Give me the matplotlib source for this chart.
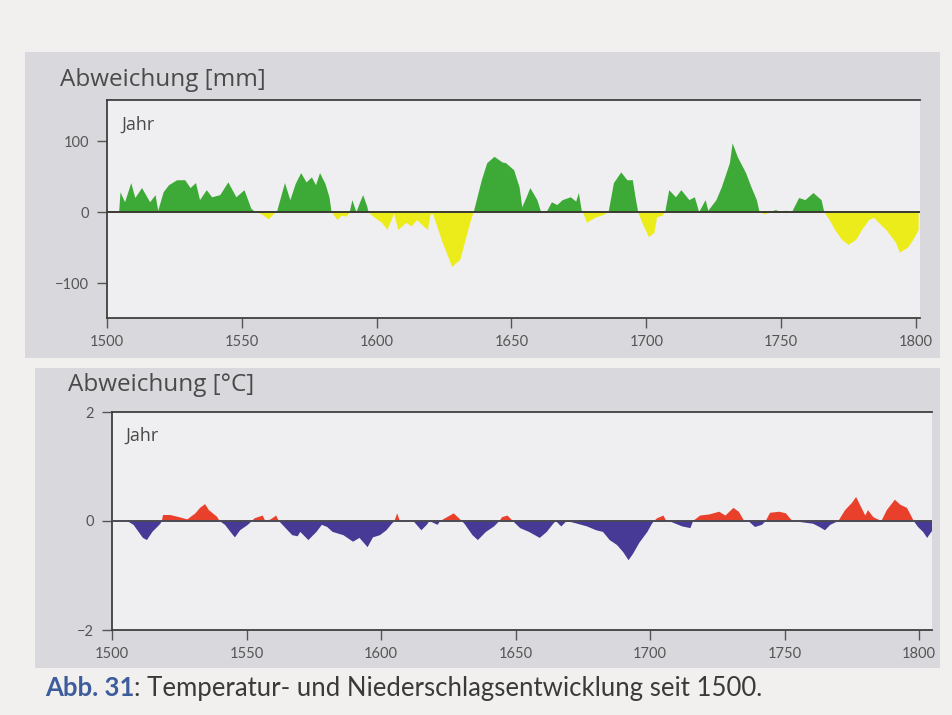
import matplotlib
matplotlib.use("Agg")
import matplotlib.pyplot as plt
from matplotlib.patches import Rectangle

# ---------------- data ----------------
precip_years = [1504.5, 1505, 1506.7, 1509, 1510.5, 1513, 1516, 1518, 1519, 1521, 1523, 1526, 1529,
                1531, 1533, 1534.5, 1537, 1539, 1542, 1545, 1548, 1551, 1553.5, 1555, 1557, 1560,
                1562, 1563, 1566, 1568, 1570, 1572, 1574, 1576, 1577.5, 1579, 1581, 1582.5, 1583.3,
                1585.5, 1587, 1589, 1590, 1591, 1592.5, 1594, 1595, 1596.5, 1597, 1599, 1602, 1604,
                1606.5, 1608, 1611, 1613, 1615, 1618, 1619, 1620, 1621, 1622, 1624.5, 1627, 1628,
                1631, 1633, 1635, 1636, 1639, 1641, 1643.7, 1646.7, 1648, 1651, 1653, 1654, 1655.5,
                1657, 1659.6, 1661, 1663, 1665, 1667, 1669, 1672, 1674, 1675, 1676, 1676.5, 1678,
                1681, 1684, 1686, 1688, 1690.7, 1693, 1695, 1696, 1697, 1698.5, 1701, 1703, 1704,
                1706, 1707, 1708.5, 1711, 1713, 1716, 1718, 1719.6, 1722, 1723, 1726, 1728, 1731,
                1732, 1733, 1734, 1737, 1739, 1741, 1742, 1744, 1746, 1748, 1750, 1752, 1754,
                1756.7, 1759, 1762, 1765, 1766, 1768, 1770, 1772.6, 1775, 1777.8, 1780, 1782.6,
                1784.5, 1786, 1789, 1792.6, 1794, 1797, 1799, 1801]
precip_values = [0, 28, 14, 41, 20, 34, 14, 24, 2, 28, 38, 45, 45,
                 34, 41, 17, 31, 21, 24, 42, 21, 31, 5, 0, -2, -10,
                 -2, 0, 41, 17, 40, 55, 42, 49, 38, 55, 40, 21, 0,
                 -11, -5, -6, 0, 17, 0, 15, 24, 8, 0, -7, -15, -25,
                 -2, -25, -15, -20, -11, -22, -25, -3, -3, -15, -43, -67, -77,
                 -67, -39, -11, 0, 45, 69, 78, 70, 69, 59, 35, 7, 20,
                 34, 17, 0, 0, 14, 10, 17, 21, 15, 27, 3, 0, -15,
                 -8, -4, 0, 41, 56, 45, 45, 21, 0, -15, -35, -29, -7,
                 -5, 0, 31, 21, 31, 17, 21, 0, 17, 2, 17, 35, 69,
                 97, 87, 77, 55, 35, 17, 0, -3, 0, 3, 0, 2, 0,
                 20, 17, 27, 17, 0, -11, -25, -39, -46, -39, -25, -11,
                 -8, -14, -25, -43, -57, -50, -39, -25]

temp_years = [1505.6, 1508, 1511.5, 1513, 1515, 1518, 1518.5, 1519, 1521.6, 1525, 1528, 1531, 1532.7,
              1534.6, 1536, 1539, 1540, 1542, 1545, 1545.7, 1547.6, 1550.5, 1552, 1553, 1556, 1557,
              1559, 1561, 1562, 1563, 1567, 1569, 1570, 1573, 1576, 1578, 1580, 1582, 1586, 1589.6,
              1592, 1595, 1597, 1599.6, 1602, 1604, 1605, 1606, 1607, 1610, 1612, 1615, 1617, 1618,
              1621, 1622, 1625.6, 1627, 1629, 1630, 1631, 1634, 1636, 1639, 1642, 1644, 1645, 1647,
              1649, 1651.7, 1655, 1659, 1661.6, 1664, 1665, 1667, 1669, 1673, 1676.6, 1680, 1682.5,
              1685, 1687.7, 1690, 1692, 1693.7, 1696, 1699, 1700.7, 1701.5, 1702.6, 1705, 1706, 1708,
              1712, 1715, 1716, 1718.6, 1722, 1725.7, 1728, 1731, 1733, 1735, 1737, 1739, 1741.6,
              1743, 1744.6, 1748, 1750.5, 1752, 1753, 1756, 1760.6, 1763, 1765, 1767, 1770, 1772.5,
              1775, 1776.6, 1778, 1780, 1781, 1783, 1786, 1788, 1791, 1793, 1795.5, 1797, 1798,
              1799.6, 1801.5, 1803, 1805]
temp_values = [0, -0.07, -0.31, -0.35, -0.2, -0.05, 0, 0.11, 0.11, 0.07, 0.03, 0.14, 0.24,
               0.31, 0.2, 0.08, 0, -0.07, -0.26, -0.3, -0.17, -0.07, 0, 0.05, 0.1, 0,
               0.03, 0.1, 0, -0.05, -0.26, -0.28, -0.2, -0.35, -0.2, -0.07, -0.11, -0.2, -0.26, -0.38,
               -0.31, -0.48, -0.3, -0.26, -0.17, -0.05, 0, 0.14, 0, 0.02, 0, -0.17, -0.07, 0,
               -0.07, 0, 0.1, 0.14, 0.05, 0, -0.05, -0.26, -0.35, -0.2, -0.1, 0, 0.07, 0.1,
               0, -0.13, -0.2, -0.31, -0.2, -0.05, 0, -0.1, 0, -0.05, -0.1, -0.17, -0.2,
               -0.35, -0.44, -0.57, -0.72, -0.6, -0.4, -0.2, -0.05, 0, 0.05, 0.1, 0, -0.02,
               -0.1, -0.13, 0, 0.1, 0.12, 0.17, 0.1, 0.24, 0.17, 0, -0.02, -0.11, -0.07,
               0, 0.15, 0.17, 0.14, 0.05, 0, -0.02, -0.05, -0.11, -0.17, -0.07, 0, 0.2,
               0.33, 0.44, 0.3, 0.1, 0.2, 0.07, 0, 0.2, 0.39, 0.3, 0.24, 0.1, 0,
               -0.11, -0.2, -0.31, -0.17]

x_ticks = [1500, 1550, 1600, 1650, 1700, 1750, 1800]
precip_yticks = [100, 0, -100]
precip_yticklabels = ["100", "0", "\u2212100"]
temp_yticks = [2, 0, -2]
temp_yticklabels = ["2", "0", "\u22122"]

title_precip = "Abweichung [mm]"
title_temp = "Abweichung [\u00b0C]"
axis_label = "Jahr"
caption_bold = "Abb. 31"
caption_rest = ": Temperatur- und Niederschlagsentwicklung seit 1500."

# ---------------- style ----------------
FONT = ["Lato", "DejaVu Sans"]
TITLE_FONT = ["Open Sans", "DejaVu Sans"]
plt.rcParams["font.family"] = FONT
W, H = 952, 715
PAGE = "#f1f0ee"
PANEL = "#d9d8dc"
FACE = "#efeef0"
GREEN = "#3daa37"
YELLOW = "#ecec1a"
RED = "#e8402a"
BLUE = "#463a96"
TXT = "#4a4a4a"
TICKTXT = "#555555"
CAPBLUE = "#3d5c9c"

fig = plt.figure(figsize=(W / 100, H / 100), dpi=100, facecolor=PAGE)


def rect(x0, y0, x1, y1):
    return [x0 / W, 1 - y1 / H, (x1 - x0) / W, (y1 - y0) / H]


def add_panel(x0, y0, x1, y1):
    l, b, w, h = rect(x0, y0, x1, y1)
    fig.patches.append(Rectangle((l, b), w, h, transform=fig.transFigure,
                                 facecolor=PANEL, edgecolor="none", zorder=-10))


add_panel(25, 52, 940, 358)
add_panel(35, 368, 940, 668)


def style_axes(ax, yticks, yticklabels, xlim, ylim, zero_color):
    ax.set_zorder(2)
    ax.set_facecolor(FACE)
    ax.set_xlim(*xlim)
    ax.set_ylim(*ylim)
    ax.spines["right"].set_visible(False)
    for s in ["left", "top", "bottom"]:
        ax.spines[s].set_color("#3f3f3f")
        ax.spines[s].set_linewidth(1.3)
    ax.set_xticks(x_ticks)
    ax.set_xticklabels([str(t) for t in x_ticks])
    ax.set_yticks(yticks)
    ax.set_yticklabels(yticklabels)
    ax.tick_params(axis="both", direction="out", length=7, width=1, color="#555555",
                   labelsize=10.5, labelcolor=TICKTXT)
    ax.tick_params(axis="x", pad=5)
    ax.tick_params(axis="y", pad=6)
    ax.axhline(0, color=zero_color, lw=1.4, zorder=5)


# precipitation panel
ax1 = fig.add_axes(rect(107, 100, 920, 318))
style_axes(ax1, precip_yticks, precip_yticklabels, (1500, 1801.5), (-149, 158), "#3a3a30")
ax1.fill_between(precip_years, precip_values, 0,
                 where=[v >= 0 for v in precip_values], interpolate=True,
                 facecolor=GREEN, edgecolor="none", zorder=3)
ax1.fill_between(precip_years, precip_values, 0,
                 where=[v <= 0 for v in precip_values], interpolate=True,
                 facecolor=YELLOW, edgecolor="none", zorder=3)
ax1.text(0.018, 0.885, axis_label, transform=ax1.transAxes, fontsize=13,
         family=TITLE_FONT, color=TXT, ha="left", va="center")

# temperature panel
ax2 = fig.add_axes(rect(112, 412, 932, 630))
style_axes(ax2, temp_yticks, temp_yticklabels, (1500, 1804.8), (-2, 2), "#4a4a55")
ax2.fill_between(temp_years, temp_values, 0,
                 where=[v >= 0 for v in temp_values], interpolate=True,
                 facecolor=RED, edgecolor="none", zorder=3)
ax2.fill_between(temp_years, temp_values, 0,
                 where=[v <= 0 for v in temp_values], interpolate=True,
                 facecolor=BLUE, edgecolor="none", zorder=3)
ax2.text(0.016, 0.89, axis_label, transform=ax2.transAxes, fontsize=13,
         family=TITLE_FONT, color=TXT, ha="left", va="center")

# titles
fig.text(60 / W, 1 - 80 / H, title_precip, fontsize=17.5, family=TITLE_FONT,
         color=TXT, ha="left", va="center")
fig.text(68 / W, 1 - 385 / H, title_temp, fontsize=17.5, family=TITLE_FONT,
         color=TXT, ha="left", va="center")

# caption
t1 = fig.text(45 / W, 1 - 696 / H, caption_bold, fontsize=18.5, color=CAPBLUE,
              fontweight="bold", ha="left", va="baseline")
fig.canvas.draw()
bb = t1.get_window_extent()
fig.text(bb.x1 / W, 1 - 696 / H, caption_rest, fontsize=18.5, color="#3a3a3a",
         ha="left", va="baseline")

fig.savefig("out.png", dpi=100, facecolor=PAGE)
